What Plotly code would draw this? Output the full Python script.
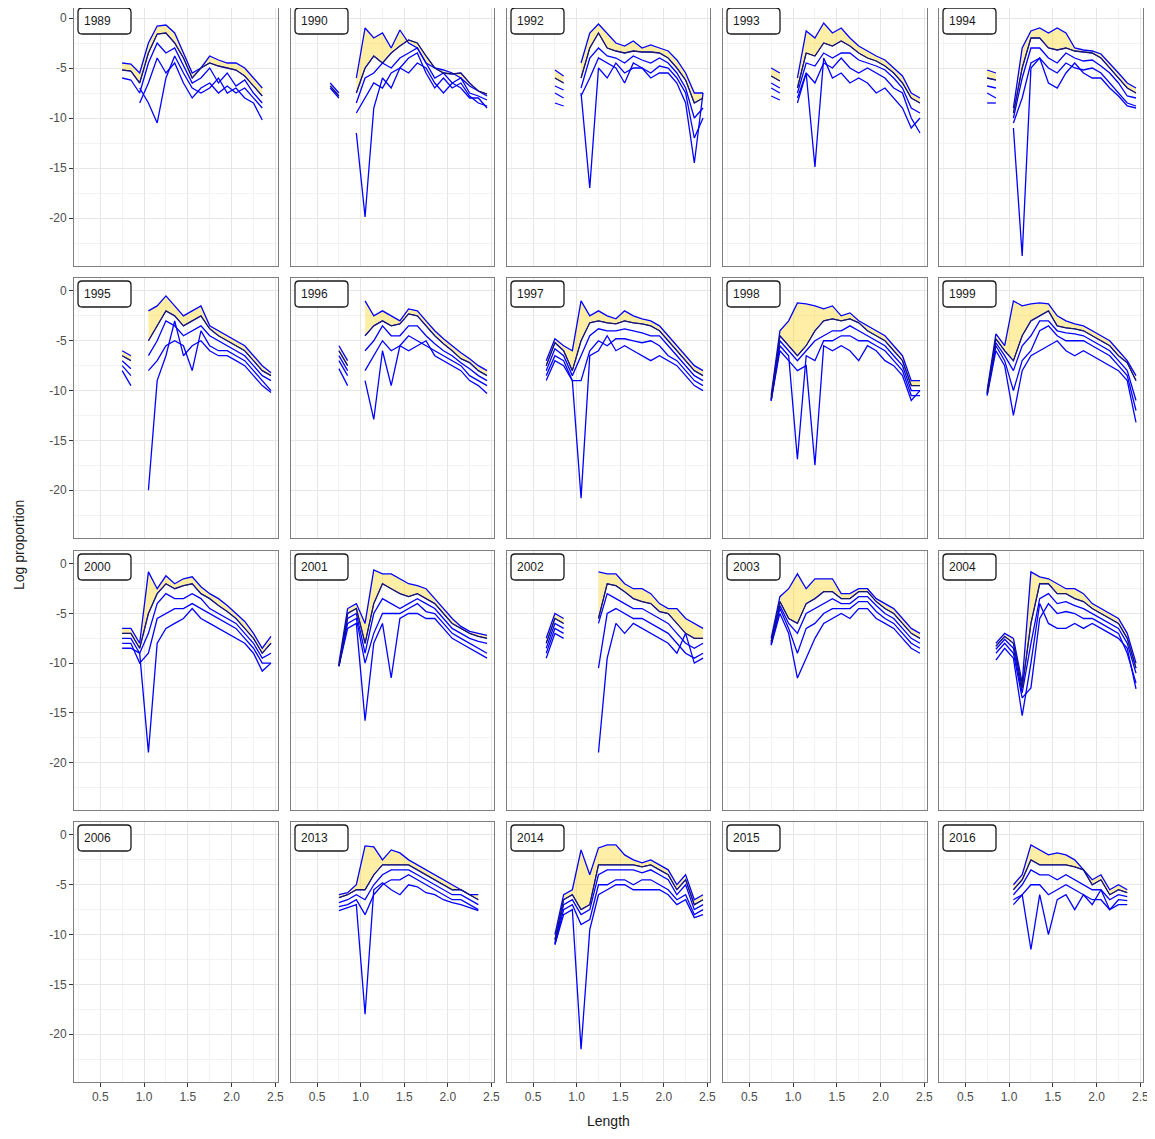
import plotly.graph_objects as go

N = None
LENGTHS = [0.65, 0.75, 0.85, 0.95, 1.05, 1.15, 1.25, 1.35, 1.45, 1.55,
           1.65, 1.75, 1.85, 1.95, 2.05, 2.15, 2.25, 2.35, 2.45]

YEARS = ["1989", "1990", "1992", "1993", "1994",
         "1995", "1996", "1997", "1998", "1999",
         "2000", "2001", "2002", "2003", "2004",
         "2006", "2013", "2014", "2015", "2016"]

X_TICKS = [0.5, 1.0, 1.5, 2.0, 2.5]
X_TICK_TEXT = ["0.5", "1.0", "1.5", "2.0", "2.5"]
Y_TICKS = [-20, -15, -10, -5, 0]
Y_TICK_TEXT = ["-20", "-15", "-10", "-5", "0"]

# ---- 1989
y1989_hi = [N, -4.5, -4.6, -5.5, -2.5, -0.8, -0.7, -1.5, -3.5, -5.5, -5.0, -3.8, -4.2, -4.5, -4.5, -5.0, -6.0, -7.0, N]
y1989_mid = [N, -5.2, -5.3, -6.5, -3.5, -1.6, -1.5, -2.5, -4.0, -6.0, -5.0, -4.5, -4.8, -5.0, -5.2, -5.8, -6.8, -7.8, N]
y1989_lo1 = [N, -6.0, -6.2, -7.5, -4.5, -2.5, -3.5, -3.0, -4.8, -6.5, -6.0, -5.0, -6.5, -5.5, -6.8, -6.2, -7.5, -8.5, N]
y1989_lo2 = [N, N, N, -8.5, -6.5, -4.0, -5.5, -4.5, -6.5, -8.0, -7.0, -6.5, -7.5, -6.8, -7.5, -7.0, -8.0, -9.0, N]
y1989_lo3 = [N, N, N, -7.0, -8.5, -10.5, -6.0, -3.8, -5.5, -7.0, -7.5, -7.0, -6.0, -7.5, -7.0, -8.0, -8.5, -10.2, N]
# ---- 1990
y1990_hi = [-6.5, -7.5, N, -6.0, -1.0, -2.0, -1.5, -3.0, -1.2, -2.5, -3.0, -4.5, -5.0, -5.2, -5.5, -6.0, -6.8, -7.3, -7.8]
y1990_mid = [-6.8, -7.8, N, -7.5, -5.0, -3.8, -4.5, -3.5, -2.8, -2.2, -2.5, -3.8, -5.0, -5.5, -5.6, -5.5, -6.5, -7.3, -7.6]
y1990_lo1 = [-7.0, -8.0, N, -8.5, -6.0, -5.5, -4.5, -5.0, -4.0, -3.5, -3.0, -4.5, -6.0, -5.5, -6.5, -6.0, -7.5, -7.8, -8.2]
y1990_lo2 = [N, N, N, -9.5, -8.0, -6.5, -7.0, -5.5, -5.0, -4.0, -3.5, -5.5, -7.0, -6.0, -7.0, -6.5, -7.8, -8.5, -8.8]
y1990_lo3 = [N, N, N, -11.5, -19.9, -9.0, -6.0, -7.0, -5.0, -5.5, -4.5, -5.0, -6.5, -7.5, -6.5, -7.0, -8.0, -8.0, -9.0]
# ---- 1992
y1992_hi = [N, -5.2, -5.8, N, -4.5, -1.5, -0.6, -1.5, -2.5, -2.8, -2.3, -3.0, -2.7, -3.0, -3.3, -4.2, -5.5, -7.5, -7.5]
y1992_mid = [N, -6.0, -6.5, N, -6.0, -3.0, -1.5, -3.0, -3.3, -3.5, -3.3, -3.4, -3.4, -3.5, -4.0, -5.0, -6.2, -8.5, -8.0]
y1992_lo1 = [N, -6.8, -7.2, N, -7.0, -4.0, -3.0, -3.8, -4.0, -4.5, -3.8, -4.2, -4.5, -4.0, -4.5, -5.5, -7.0, -10.0, -9.0]
y1992_lo2 = [N, -7.5, -8.0, N, -7.8, -6.0, -4.0, -4.5, -5.0, -6.5, -4.5, -5.0, -5.5, -4.8, -5.0, -6.0, -7.5, -12.0, -10.0]
y1992_lo3 = [N, -8.5, -8.8, N, -7.5, -17.0, -5.0, -6.0, -4.5, -5.5, -5.0, -5.0, -6.0, -5.5, -5.5, -6.5, -8.5, -14.5, -7.5]
# ---- 1993
y1993_hi = [N, -5.0, -5.5, N, -6.0, -1.3, -2.0, -0.5, -1.5, -1.0, -2.0, -2.8, -3.3, -3.8, -4.2, -5.0, -5.8, -7.5, -8.0]
y1993_mid = [N, -5.8, -6.3, N, -7.0, -3.5, -3.8, -2.5, -2.8, -2.3, -2.8, -3.5, -4.0, -4.3, -4.8, -5.5, -6.5, -8.0, -8.5]
y1993_lo1 = [N, -6.5, -7.0, N, -7.5, -4.5, -4.8, -3.5, -4.0, -3.5, -3.5, -4.2, -4.5, -4.8, -5.2, -6.0, -7.0, -9.0, -9.5]
y1993_lo2 = [N, -7.0, -7.5, N, -8.5, -5.5, -6.5, -4.5, -5.0, -4.0, -5.0, -5.5, -5.0, -5.5, -6.0, -7.0, -7.5, -10.0, -11.5]
y1993_lo3 = [N, -7.8, -8.2, N, -8.0, -5.5, -14.9, -4.0, -6.0, -5.5, -6.5, -6.0, -6.5, -7.5, -7.0, -8.0, -9.0, -11.0, -10.0]
# ---- 1994
y1994_hi = [N, -5.2, -5.5, N, -9.0, -3.0, -1.3, -1.0, -1.5, -1.0, -1.5, -3.0, -3.2, -3.3, -3.6, -4.5, -5.5, -6.5, -7.0]
y1994_mid = [N, -6.0, -6.2, N, -9.5, -5.0, -2.0, -2.0, -3.0, -3.2, -3.0, -3.3, -3.4, -3.5, -4.0, -5.0, -6.0, -7.0, -7.5]
y1994_lo1 = [N, -6.8, -7.0, N, -10.0, -6.0, -3.0, -3.0, -4.0, -4.5, -3.5, -4.0, -4.3, -4.2, -4.8, -5.5, -6.5, -7.8, -8.0]
y1994_lo2 = [N, -7.5, -8.0, N, -10.5, -8.0, -4.5, -4.0, -5.0, -5.5, -4.5, -5.0, -5.2, -5.0, -5.5, -6.5, -7.5, -8.5, -8.8]
y1994_lo3 = [N, -8.5, -8.5, N, -11.0, -23.8, -5.0, -4.0, -6.5, -7.0, -5.5, -4.5, -5.5, -6.0, -6.0, -7.0, -7.8, -8.8, -9.0]
# ---- 1995
y1995_hi = [N, -6.0, -6.5, N, -2.0, -1.5, -0.5, -1.5, -2.5, -2.0, -1.5, -3.5, -4.0, -4.5, -5.0, -5.5, -6.5, -7.5, -8.2]
y1995_mid = [N, -6.5, -7.0, N, -5.0, -3.5, -2.0, -2.5, -3.5, -3.0, -2.5, -3.8, -4.5, -5.0, -5.5, -6.0, -7.0, -8.0, -8.5]
y1995_lo1 = [N, -7.0, -7.8, N, -6.5, -5.0, -3.0, -3.5, -4.5, -4.0, -3.5, -4.5, -5.0, -5.5, -6.0, -6.5, -7.5, -8.5, -9.0]
y1995_lo2 = [N, -7.5, -8.5, N, -8.0, -7.0, -5.5, -5.0, -5.5, -8.0, -4.0, -5.5, -6.0, -6.0, -6.5, -7.0, -8.0, -9.0, -10.0]
y1995_lo3 = [N, -8.0, -9.5, N, -20.0, -9.0, -6.5, -3.0, -6.5, -5.5, -5.0, -6.0, -6.5, -6.5, -7.0, -7.5, -8.5, -9.5, -10.2]
# ---- 1996
y1996_hi = [N, -5.5, -7.0, N, -1.0, -2.5, -2.0, -2.5, -3.0, -1.8, -2.0, -3.0, -4.0, -4.8, -5.5, -6.2, -6.8, -7.5, -8.0]
y1996_mid = [N, -6.0, -7.5, N, -4.5, -3.5, -3.0, -3.5, -3.3, -2.3, -2.5, -3.5, -4.5, -5.3, -6.0, -6.8, -7.2, -8.0, -8.5]
y1996_lo1 = [N, -6.5, -8.0, N, -6.0, -5.0, -3.5, -4.5, -4.5, -3.5, -3.5, -4.5, -5.3, -6.0, -6.5, -7.2, -7.8, -8.5, -9.0]
y1996_lo2 = [N, -7.0, -8.5, N, -8.0, -6.5, -5.0, -6.0, -5.5, -4.5, -5.0, -5.5, -6.0, -6.5, -7.0, -7.5, -8.5, -9.0, -9.5]
y1996_lo3 = [N, -7.8, -9.5, N, -9.0, -12.9, -6.0, -9.5, -5.5, -6.0, -5.5, -5.0, -6.5, -7.0, -7.5, -8.0, -9.0, -9.5, -10.3]
# ---- 1997
y1997_hi = [-7.0, -4.8, -5.5, -6.0, -1.0, -2.5, -2.0, -2.5, -2.8, -2.0, -2.5, -2.8, -3.0, -3.5, -4.5, -5.5, -6.5, -7.5, -8.0]
y1997_mid = [-7.5, -5.2, -6.0, -8.0, -5.0, -3.2, -3.0, -3.2, -3.3, -3.0, -3.2, -3.3, -3.5, -4.0, -5.0, -6.0, -7.0, -8.0, -8.5]
y1997_lo1 = [-8.0, -5.8, -6.5, -8.5, -6.5, -4.5, -3.8, -4.0, -4.0, -3.8, -4.0, -4.2, -4.5, -4.5, -5.5, -6.5, -7.5, -8.5, -9.0]
y1997_lo2 = [-8.5, -6.5, -7.0, -9.0, -9.0, -6.0, -5.0, -5.5, -4.8, -4.8, -5.0, -5.2, -5.0, -5.5, -6.5, -7.0, -8.0, -9.0, -9.5]
y1997_lo3 = [-9.0, -7.0, -7.5, -9.0, -20.8, -6.5, -6.0, -4.5, -6.0, -5.5, -6.0, -6.5, -7.0, -6.5, -7.0, -7.5, -8.5, -9.5, -10.0]
# ---- 1998
y1998_hi = [N, -10.5, -4.0, -3.0, -1.2, -1.3, -1.5, -1.8, -1.5, -2.5, -2.2, -3.0, -3.5, -4.0, -4.5, -5.5, -6.5, -9.0, -9.0]
y1998_mid = [N, -10.8, -4.5, -5.5, -6.5, -5.5, -4.0, -3.0, -2.8, -3.0, -2.8, -3.2, -4.0, -4.5, -5.0, -6.0, -7.0, -9.5, -9.5]
y1998_lo1 = [N, -11.0, -5.0, -6.0, -7.0, -6.0, -5.0, -4.5, -4.0, -4.0, -3.5, -4.0, -4.5, -5.0, -5.5, -6.5, -7.5, -10.0, -10.0]
y1998_lo2 = [N, -11.0, -5.5, -6.5, -16.9, -6.5, -7.0, -5.0, -5.0, -4.5, -4.5, -5.0, -5.0, -5.5, -6.0, -7.0, -8.0, -10.5, -10.5]
y1998_lo3 = [N, -11.0, -6.0, -7.0, -8.0, -7.5, -17.5, -5.5, -6.0, -5.5, -6.0, -7.0, -5.5, -6.0, -7.0, -7.5, -8.5, -11.0, -10.0]
# ---- 1999
y1999_hi = [N, -10.0, -4.3, -5.5, -1.0, -1.5, -1.3, -1.2, -1.3, -2.5, -3.0, -3.3, -3.5, -4.0, -4.5, -5.0, -6.0, -7.0, -8.5]
y1999_mid = [N, -10.2, -4.8, -6.0, -7.0, -4.5, -3.0, -2.5, -2.0, -3.5, -3.7, -3.8, -4.0, -4.5, -5.0, -5.5, -6.5, -7.2, -9.0]
y1999_lo1 = [N, -10.3, -5.2, -6.5, -8.0, -5.5, -4.5, -3.0, -3.0, -4.0, -4.2, -4.3, -4.5, -5.0, -5.5, -6.0, -7.0, -8.0, -11.0]
y1999_lo2 = [N, -10.4, -5.5, -7.0, -10.0, -7.0, -6.0, -4.0, -3.5, -4.5, -5.0, -5.0, -5.0, -5.5, -6.0, -6.5, -7.5, -8.5, -12.0]
y1999_lo3 = [N, -10.5, -6.0, -7.5, -12.5, -8.0, -6.5, -6.0, -5.5, -5.0, -6.0, -6.5, -6.0, -6.5, -7.0, -7.5, -8.0, -9.0, -13.2]
# ---- 2000
y2000_hi = [N, -6.5, -6.5, -8.0, -0.8, -2.5, -1.2, -2.0, -1.5, -1.3, -2.3, -3.0, -3.5, -4.2, -5.0, -5.8, -7.0, -8.5, -7.3]
y2000_mid = [N, -7.0, -7.0, -8.5, -5.0, -3.0, -2.0, -2.5, -2.2, -2.0, -3.0, -3.5, -4.2, -4.8, -5.5, -6.5, -7.5, -9.0, -8.0]
y2000_lo1 = [N, -7.5, -7.5, -9.0, -7.0, -4.0, -3.0, -3.5, -3.5, -3.0, -3.5, -4.5, -5.0, -5.5, -6.0, -7.0, -8.0, -9.5, -9.0]
y2000_lo2 = [N, -8.0, -8.0, -10.0, -9.0, -5.5, -5.0, -4.5, -4.5, -4.0, -4.5, -5.0, -5.5, -6.0, -6.5, -7.5, -8.5, -10.0, -10.0]
y2000_lo3 = [N, -8.5, -8.5, -9.0, -19.0, -8.0, -6.5, -6.0, -5.5, -4.5, -5.5, -6.0, -6.5, -7.0, -7.5, -8.0, -9.0, -10.8, -10.0]
# ---- 2001
y2001_hi = [N, -10.0, -4.5, -4.0, -6.0, -0.6, -1.0, -1.0, -1.5, -2.0, -2.2, -2.5, -3.5, -4.5, -5.5, -6.3, -6.8, -7.0, -7.2]
y2001_mid = [N, -10.3, -5.0, -4.5, -8.0, -4.0, -2.0, -2.5, -3.0, -3.3, -3.0, -3.5, -4.0, -5.0, -6.0, -6.5, -7.0, -7.3, -7.5]
y2001_lo1 = [N, -10.3, -5.5, -5.0, -9.0, -5.0, -3.5, -4.0, -4.5, -4.0, -3.5, -4.0, -4.5, -5.5, -6.5, -7.0, -7.5, -7.8, -8.0]
y2001_lo2 = [N, -10.3, -6.0, -5.5, -10.0, -7.0, -5.0, -5.0, -5.0, -4.5, -4.0, -4.8, -5.0, -6.0, -7.0, -7.5, -8.0, -8.5, -9.0]
y2001_lo3 = [N, -10.3, -6.5, -6.0, -15.8, -8.0, -6.0, -11.5, -5.5, -5.0, -5.0, -5.5, -5.5, -6.5, -7.5, -8.0, -8.5, -9.0, -9.5]
# ---- 2002
y2002_hi = [-7.5, -5.0, -5.5, N, N, N, -0.8, -1.0, -1.0, -2.0, -2.5, -2.5, -3.0, -4.0, -4.5, -4.5, -5.5, -6.0, -6.5]
y2002_mid = [-8.0, -5.5, -6.0, N, N, N, -5.5, -2.0, -2.2, -2.8, -3.5, -3.8, -4.0, -4.8, -5.0, -6.0, -7.0, -7.5, -7.5]
y2002_lo1 = [-8.5, -6.0, -6.5, N, N, N, -6.0, -3.0, -3.5, -4.0, -4.5, -4.5, -5.0, -5.5, -6.0, -7.0, -8.0, -8.5, -8.0]
y2002_lo2 = [-9.0, -6.5, -7.0, N, N, N, -10.5, -5.0, -4.5, -5.0, -5.5, -5.5, -6.0, -6.5, -7.0, -8.0, -9.0, -9.5, -9.0]
y2002_lo3 = [-9.5, -7.0, -7.5, N, N, N, -19.0, -9.5, -6.0, -7.0, -6.0, -6.5, -7.0, -7.5, -8.0, -9.0, -7.0, -10.0, -9.5]
# ---- 2003
y2003_hi = [N, -7.5, -3.3, -2.5, -1.0, -2.5, -1.5, -1.5, -1.5, -3.0, -3.0, -2.5, -2.5, -3.5, -4.0, -4.5, -5.5, -6.5, -7.0]
y2003_mid = [N, -7.8, -3.8, -5.5, -6.0, -4.0, -3.5, -2.8, -2.8, -3.5, -3.5, -2.8, -2.8, -3.8, -4.5, -5.0, -6.0, -7.0, -7.5]
y2003_lo1 = [N, -8.0, -4.2, -6.0, -7.0, -5.0, -4.5, -4.0, -3.5, -4.0, -4.0, -3.3, -3.3, -4.2, -5.0, -5.5, -6.5, -7.5, -8.0]
y2003_lo2 = [N, -8.1, -4.5, -6.5, -9.0, -6.5, -6.0, -5.0, -4.5, -4.5, -4.5, -3.8, -3.8, -4.8, -5.5, -6.0, -7.0, -8.0, -8.5]
y2003_lo3 = [N, -8.2, -5.0, -7.0, -11.5, -9.5, -7.5, -6.0, -5.5, -5.0, -5.5, -4.5, -4.5, -5.5, -6.0, -6.5, -7.5, -8.5, -9.0]
# ---- 2004
y2004_hi = [N, N, -8.0, -7.0, -7.5, -12.0, -0.8, -1.3, -1.5, -2.0, -2.5, -2.5, -3.0, -4.0, -4.5, -5.0, -5.5, -7.0, -10.0]
y2004_mid = [N, N, -8.3, -7.3, -8.0, -12.5, -6.0, -2.0, -2.0, -3.0, -3.0, -3.5, -3.8, -4.5, -5.0, -5.5, -6.0, -7.5, -10.5]
y2004_lo1 = [N, N, -8.6, -7.6, -8.5, -13.0, -8.0, -3.5, -3.0, -4.0, -3.8, -4.2, -4.5, -5.0, -5.5, -6.0, -6.5, -8.0, -11.0]
y2004_lo2 = [N, N, -9.0, -8.0, -9.0, -13.5, -12.5, -5.5, -4.0, -5.0, -4.8, -5.0, -5.5, -5.5, -6.0, -6.5, -7.0, -9.0, -12.0]
y2004_lo3 = [N, N, -9.7, -8.5, -9.5, -15.3, -10.0, -4.0, -6.0, -6.5, -6.5, -6.0, -6.5, -6.0, -6.5, -7.0, -7.5, -8.5, -12.6]
# ---- 2013
y2013_hi = [N, -6.0, -5.8, -5.0, -1.1, -1.2, -2.5, -1.5, -1.8, -2.5, -3.0, -3.5, -4.0, -4.5, -5.0, -5.5, -6.0, -6.0, N]
y2013_mid = [N, -6.3, -6.0, -5.5, -5.5, -4.0, -3.0, -3.0, -3.0, -3.0, -3.5, -4.0, -4.5, -5.0, -5.5, -5.5, -6.0, -6.5, N]
y2013_lo1 = [N, -6.8, -6.5, -6.0, -6.5, -5.0, -4.0, -3.5, -3.5, -3.5, -4.0, -4.5, -5.0, -5.5, -6.0, -6.0, -6.5, -7.0, N]
y2013_lo2 = [N, -7.2, -7.0, -6.5, -8.0, -6.0, -5.0, -4.5, -4.5, -4.0, -4.5, -5.0, -5.5, -6.0, -6.5, -6.5, -7.0, -7.5, N]
y2013_lo3 = [N, -7.6, -7.3, -7.0, -18.0, -5.5, -4.8, -5.5, -6.0, -5.0, -5.2, -5.8, -6.0, -6.5, -6.8, -7.0, -7.3, -7.6, N]
# ---- 2014
y2014_hi = [N, -10.0, -6.0, -5.5, -1.5, -4.0, -1.3, -1.0, -1.0, -2.0, -2.5, -2.8, -2.5, -3.0, -3.5, -5.0, -4.0, -6.5, -6.0]
y2014_mid = [N, -10.5, -6.5, -6.0, -7.5, -7.0, -3.0, -3.0, -3.0, -3.0, -3.0, -3.2, -3.0, -3.5, -4.0, -5.5, -4.5, -7.0, -6.5]
y2014_lo1 = [N, -10.8, -7.0, -6.5, -8.0, -7.5, -4.0, -3.5, -3.5, -3.5, -3.5, -3.8, -3.5, -4.0, -4.5, -6.0, -5.0, -7.5, -7.0]
y2014_lo2 = [N, -11.0, -7.5, -7.0, -9.0, -8.5, -5.0, -5.0, -4.5, -4.5, -5.0, -4.5, -4.5, -5.0, -5.5, -6.5, -6.0, -8.0, -7.5]
y2014_lo3 = [N, -11.0, -8.0, -7.5, -21.5, -9.5, -6.0, -5.5, -5.0, -5.0, -5.5, -5.5, -5.5, -5.5, -6.0, -7.0, -6.5, -8.3, -8.0]
# ---- 2016
y2016_hi = [N, N, N, N, -5.0, -4.0, -1.0, -1.5, -2.0, -1.8, -2.0, -2.5, -3.5, -4.5, -4.0, -5.5, -5.0, -5.5, N]
y2016_mid = [N, N, N, N, -5.5, -4.5, -2.5, -3.0, -3.0, -3.0, -3.0, -3.2, -3.5, -5.0, -4.5, -6.0, -5.5, -5.8, N]
y2016_lo1 = [N, N, N, N, -6.0, -5.0, -3.5, -4.0, -4.0, -4.5, -4.0, -4.5, -5.0, -5.5, -5.5, -6.5, -6.0, -6.2, N]
y2016_lo2 = [N, N, N, N, -6.5, -6.0, -5.0, -5.0, -6.0, -5.5, -5.0, -5.5, -6.0, -6.5, -6.5, -7.5, -6.5, -6.6, N]
y2016_lo3 = [N, N, N, N, -7.0, -6.0, -11.5, -6.0, -10.0, -6.5, -6.0, -7.5, -6.0, -7.0, -5.5, -7.5, -7.0, -7.0, N]

SERIES = {
    "1989": (y1989_hi, y1989_mid, y1989_lo1, y1989_lo2, y1989_lo3),
    "1990": (y1990_hi, y1990_mid, y1990_lo1, y1990_lo2, y1990_lo3),
    "1992": (y1992_hi, y1992_mid, y1992_lo1, y1992_lo2, y1992_lo3),
    "1993": (y1993_hi, y1993_mid, y1993_lo1, y1993_lo2, y1993_lo3),
    "1994": (y1994_hi, y1994_mid, y1994_lo1, y1994_lo2, y1994_lo3),
    "1995": (y1995_hi, y1995_mid, y1995_lo1, y1995_lo2, y1995_lo3),
    "1996": (y1996_hi, y1996_mid, y1996_lo1, y1996_lo2, y1996_lo3),
    "1997": (y1997_hi, y1997_mid, y1997_lo1, y1997_lo2, y1997_lo3),
    "1998": (y1998_hi, y1998_mid, y1998_lo1, y1998_lo2, y1998_lo3),
    "1999": (y1999_hi, y1999_mid, y1999_lo1, y1999_lo2, y1999_lo3),
    "2000": (y2000_hi, y2000_mid, y2000_lo1, y2000_lo2, y2000_lo3),
    "2001": (y2001_hi, y2001_mid, y2001_lo1, y2001_lo2, y2001_lo3),
    "2002": (y2002_hi, y2002_mid, y2002_lo1, y2002_lo2, y2002_lo3),
    "2003": (y2003_hi, y2003_mid, y2003_lo1, y2003_lo2, y2003_lo3),
    "2004": (y2004_hi, y2004_mid, y2004_lo1, y2004_lo2, y2004_lo3),
    "2013": (y2013_hi, y2013_mid, y2013_lo1, y2013_lo2, y2013_lo3),
    "2014": (y2014_hi, y2014_mid, y2014_lo1, y2014_lo2, y2014_lo3),
    "2016": (y2016_hi, y2016_mid, y2016_lo1, y2016_lo2, y2016_lo3),
}

# ---------------- layout geometry (page pixels) ----------------
PAGE_W, PAGE_H = 1155, 1139
OFF = 8                     # default body margin of the html page
W, H = PAGE_W - OFF, PAGE_H - 2 * OFF
COLS = [(74, 278), (291, 494), (507, 710), (723, 927), (939, 1143)]
ROWS = [(5, 266), (278, 538), (551, 810), (822, 1082)]
X_RANGE = [0.2, 2.53]
Y_RANGE = [-24.8, 1.3]
BLUE = "#0000FF"
FILL = "rgba(255, 208, 0, 0.35)"


def px(x):
    return min(max((x - OFF) / W, 0.0), 1.0)


def py(y):
    return min(max(1 - (y - OFF) / H, 0.0), 1.0)


fig = go.Figure()
layout = dict(
    width=W, height=H, margin=dict(l=0, r=0, t=0, b=0, autoexpand=False),
    paper_bgcolor="white", plot_bgcolor="white", showlegend=False,
    font=dict(family="Liberation Sans, Arial, sans-serif", color="#4d4d4d", size=12),
)
shapes = []
annotations = []

for i, year in enumerate(YEARS):
    r, c = divmod(i, 5)
    k = i + 1
    xa = "x" if k == 1 else f"x{k}"
    ya = "y" if k == 1 else f"y{k}"
    xkey = "xaxis" if k == 1 else f"xaxis{k}"
    ykey = "yaxis" if k == 1 else f"yaxis{k}"
    x0, x1 = COLS[c]
    y0, y1 = ROWS[r]
    unit_px = (y1 - y0) / (Y_RANGE[1] - Y_RANGE[0])
    y0c = max(y0, OFF)
    y_top = Y_RANGE[1] - (y0c - y0) / unit_px
    layout[xkey] = dict(
        domain=[px(x0), px(x1)], range=X_RANGE, anchor=ya,
        tickvals=X_TICKS, ticktext=X_TICK_TEXT,
        showticklabels=(r == 3), ticks="outside" if r == 3 else "",
        ticklen=4, tickcolor="#333333", tickfont=dict(size=12, color="#4d4d4d"),
        showgrid=True, gridcolor="#E6E6E6", gridwidth=1,
        minor=dict(tickvals=[0.25, 0.75, 1.25, 1.75, 2.25], showgrid=True,
                   gridcolor="#F3F3F3", gridwidth=1, ticks=""),
        showline=True, mirror=True, linecolor="#7f7f7f", linewidth=1,
        zeroline=False, fixedrange=True,
    )
    layout[ykey] = dict(
        domain=[py(y1), py(y0c)], range=[Y_RANGE[0], y_top], anchor=xa,
        tickvals=Y_TICKS, ticktext=Y_TICK_TEXT,
        showticklabels=(c == 0), ticks="outside" if c == 0 else "",
        ticklen=4, tickcolor="#333333", tickfont=dict(size=12, color="#4d4d4d"),
        showgrid=True, gridcolor="#E6E6E6", gridwidth=1,
        minor=dict(tickvals=[-22.5, -17.5, -12.5, -7.5, -2.5], showgrid=True,
                   gridcolor="#F3F3F3", gridwidth=1, ticks=""),
        showline=True, mirror=True, linecolor="#7f7f7f", linewidth=1,
        zeroline=False, fixedrange=True,
    )

    if year in SERIES:
        hi, mid, lo1, lo2, lo3 = SERIES[year]
        assert all(len(s) == len(LENGTHS) for s in SERIES[year]), year
        seg = []
        runs = []
        for xv, a, b in zip(LENGTHS, hi, mid):
            if a is None or b is None:
                if seg:
                    runs.append(seg)
                seg = []
            else:
                seg.append((xv, a, b))
        if seg:
            runs.append(seg)
        for run in runs:
            xs = [p[0] for p in run] + [p[0] for p in reversed(run)]
            ys = [p[1] for p in run] + [p[2] for p in reversed(run)]
            fig.add_trace(go.Scatter(x=xs, y=ys, xaxis=xa, yaxis=ya, mode="lines",
                                     fill="toself", fillcolor=FILL,
                                     line=dict(width=0), hoverinfo="skip"))
        for s in (lo3, lo2, lo1, mid, hi):
            fig.add_trace(go.Scatter(x=LENGTHS, y=s, xaxis=xa, yaxis=ya, mode="lines",
                                     line=dict(color=BLUE, width=1.3),
                                     connectgaps=False, hoverinfo="skip"))
        fig.add_trace(go.Scatter(x=LENGTHS, y=mid, xaxis=xa, yaxis=ya, mode="lines",
                                 line=dict(color="#222222", width=0.9),
                                 connectgaps=False, hoverinfo="skip"))
    else:
        fig.add_trace(go.Scatter(x=[], y=[], xaxis=xa, yaxis=ya, mode="lines",
                                 hoverinfo="skip"))

    bx0, bx1 = x0 + 4, x0 + 57
    by0, by1 = max(y0 + 3, OFF), y0 + 29
    rr = 4
    path = (f"M {px(bx0 + rr)},{py(by0)} L {px(bx1 - rr)},{py(by0)} "
            f"Q {px(bx1)},{py(by0)} {px(bx1)},{py(by0 + rr)} "
            f"L {px(bx1)},{py(by1 - rr)} Q {px(bx1)},{py(by1)} {px(bx1 - rr)},{py(by1)} "
            f"L {px(bx0 + rr)},{py(by1)} Q {px(bx0)},{py(by1)} {px(bx0)},{py(by1 - rr)} "
            f"L {px(bx0)},{py(by0 + rr)} Q {px(bx0)},{py(by0)} {px(bx0 + rr)},{py(by0)} Z")
    shapes.append(dict(type="path", path=path, xref="paper", yref="paper",
                       line=dict(color="#1a1a1a", width=1.3), fillcolor="white", layer="above"))
    annotations.append(dict(text=year, x=px(bx0 + 4), y=py((by0 + by1) / 2),
                            xref="paper", yref="paper", xanchor="left", yanchor="middle",
                            showarrow=False, font=dict(size=12, color="#1a1a1a")))

annotations.append(dict(text="Length", x=px(608), y=py(1121), xref="paper", yref="paper",
                        xanchor="center", yanchor="middle", showarrow=False,
                        font=dict(size=14, color="#1a1a1a")))
annotations.append(dict(text="Log proportion", x=px(19), y=py(545), xref="paper", yref="paper",
                        xanchor="center", yanchor="middle", showarrow=False, textangle=-90,
                        font=dict(size=14, color="#1a1a1a")))

layout["shapes"] = shapes
layout["annotations"] = annotations
fig.update_layout(**layout)
fig.write_html("out.html")
